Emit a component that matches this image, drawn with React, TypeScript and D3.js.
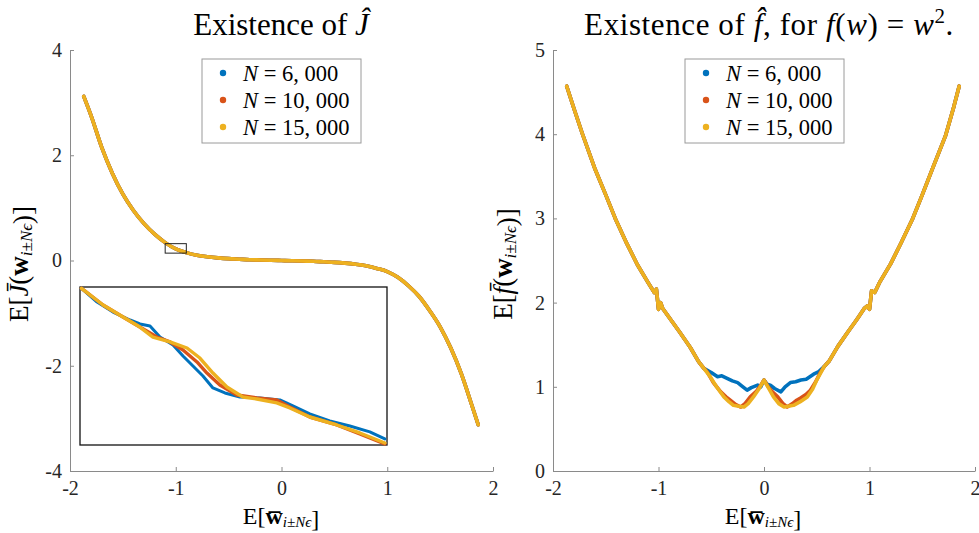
import React, { useEffect, useRef } from 'react';
import * as d3 from 'd3';

// Series colours (MATLAB default order)
const COLORS = ['#0072BD', '#D95319', '#EDB120'];
const legendCounts = ['6, 000', '10, 000', '15, 000'];

const xTicks = [-2, -1, 0, 1, 2];
const yTicksJ = [-4, -2, 0, 2, 4];
const yTicksF = [0, 1, 2, 3, 4, 5];

// E[J(w)] against E[w]; the three sample sizes coincide at this scale
const jMain: [number, number][] = [
  [-1.87, 3.12], [-1.8, 2.75], [-1.7, 2.15], [-1.6, 1.66], [-1.5, 1.26], [-1.4, 0.95],
  [-1.3, 0.7], [-1.2, 0.5], [-1.1, 0.34], [-1.0, 0.22], [-0.9, 0.15], [-0.8, 0.1],
  [-0.7, 0.07], [-0.6, 0.05], [-0.5, 0.035], [-0.4, 0.025], [-0.3, 0.015], [-0.2, 0.01],
  [-0.1, 0.005], [0, 0], [0.1, -0.005], [0.2, -0.01], [0.3, -0.015], [0.4, -0.025],
  [0.5, -0.035], [0.6, -0.05], [0.7, -0.07], [0.8, -0.1], [0.9, -0.15], [1.0, -0.21],
  [1.1, -0.32], [1.2, -0.48], [1.3, -0.68], [1.4, -0.95], [1.5, -1.26], [1.6, -1.66],
  [1.7, -2.15], [1.8, -2.75], [1.86, -3.12],
];

// Zoomed window around w = -1
const insetXDomain = [-1.1, -0.9];
const insetYDomain = [0.14, 0.32];

const jInsetBlue: [number, number][] = [
  [-1.099, 0.3185], [-1.0889, 0.3029], [-1.0785, 0.2915], [-1.0674, 0.2824],
  [-1.0609, 0.2779], [-1.0544, 0.2756], [-1.0479, 0.263], [-1.0394, 0.2539],
  [-1.0329, 0.2414], [-1.0264, 0.23], [-1.0199, 0.2186], [-1.0134, 0.205],
  [-1.0056, 0.1993], [-0.9958, 0.1947], [-0.9828, 0.1936], [-0.9698, 0.1913],
  [-0.9613, 0.1845], [-0.9503, 0.1754], [-0.9373, 0.1674], [-0.9242, 0.1617],
  [-0.9112, 0.1549], [-0.9014, 0.1469],
];
const jInsetRed: [number, number][] = [
  [-1.099, 0.3185], [-1.085, 0.2995], [-1.072, 0.2858], [-1.061, 0.2744],
  [-1.0499, 0.263], [-1.0414, 0.2574], [-1.0329, 0.2482], [-1.0238, 0.2346],
  [-1.0173, 0.222], [-1.0089, 0.2084], [-0.9978, 0.197], [-0.9848, 0.1936],
  [-0.9718, 0.1913], [-0.9633, 0.1833], [-0.9503, 0.1719], [-0.9327, 0.1628],
  [-0.9177, 0.1526], [-0.9014, 0.1412],
];
const jInsetYellow: [number, number][] = [
  [-1.099, 0.3185], [-1.085, 0.2995], [-1.072, 0.2858], [-1.061, 0.2744],
  [-1.0525, 0.263], [-1.0414, 0.2574], [-1.0303, 0.2505], [-1.0219, 0.2391],
  [-1.0134, 0.222], [-1.0043, 0.2061], [-0.9939, 0.1947], [-0.9848, 0.1924],
  [-0.9718, 0.1879], [-0.9633, 0.1822], [-0.9503, 0.1719], [-0.9327, 0.1628],
  [-0.9177, 0.1537], [-0.9014, 0.1423],
];

// E[f(w)] for f(w) = w^2: shared outer branches
const fLeftBranch: [number, number][] = [
  [-1.87, 4.57], [-1.8, 4.3], [-1.72, 4.0], [-1.6, 3.58], [-1.5, 3.28], [-1.41, 3.0],
  [-1.3, 2.7], [-1.2, 2.45], [-1.1, 2.24], [-1.04, 2.12], [-1.02, 2.16], [-1.0, 1.92],
  [-0.98, 2.0], [-0.96, 1.93], [-0.88, 1.79], [-0.8, 1.65], [-0.7, 1.47], [-0.62, 1.3],
];
const fRightBranch: [number, number][] = [
  [0.62, 1.31], [0.7, 1.48], [0.8, 1.66], [0.88, 1.8], [0.95, 1.93], [0.98, 1.96],
  [1.0, 1.92], [1.02, 2.14], [1.05, 2.12], [1.1, 2.25], [1.2, 2.46], [1.3, 2.71],
  [1.41, 3.0], [1.5, 3.28], [1.6, 3.6], [1.72, 3.98], [1.8, 4.33], [1.85, 4.57],
];
// Centre region, where the sample sizes differ
const fCentreBlue: [number, number][] = [
  [-0.57, 1.22], [-0.5, 1.17], [-0.44, 1.12], [-0.4, 1.13], [-0.35, 1.1], [-0.3, 1.07],
  [-0.25, 1.05], [-0.2, 1.0], [-0.16, 0.96], [-0.12, 0.99], [-0.06, 1.02], [-0.03, 1.0],
  [0, 1.08], [0.03, 1.03], [0.06, 1.02], [0.1, 0.98], [0.16, 0.94], [0.2, 1.0],
  [0.25, 1.05], [0.3, 1.06], [0.35, 1.08], [0.4, 1.09], [0.47, 1.15], [0.52, 1.18],
  [0.57, 1.24],
];
const fCentreRed: [number, number][] = [
  [-0.57, 1.22], [-0.54, 1.18], [-0.48, 1.05], [-0.41, 0.94], [-0.36, 0.88], [-0.32, 0.84],
  [-0.27, 0.79], [-0.22, 0.76], [-0.18, 0.8], [-0.13, 0.88], [-0.07, 0.95], [-0.03, 1.02],
  [0, 1.08], [0.04, 1.0], [0.08, 0.94], [0.13, 0.88], [0.18, 0.8], [0.22, 0.76],
  [0.27, 0.8], [0.31, 0.84], [0.35, 0.87], [0.4, 0.91], [0.44, 0.96], [0.49, 1.06],
  [0.53, 1.16], [0.57, 1.24],
];
const fCentreYellow: [number, number][] = [
  [-0.57, 1.22], [-0.51, 1.12], [-0.45, 1.0], [-0.38, 0.88], [-0.33, 0.82], [-0.29, 0.78],
  [-0.24, 0.77], [-0.19, 0.76], [-0.15, 0.8], [-0.1, 0.88], [-0.05, 0.97], [0, 1.08],
  [0.05, 0.97], [0.09, 0.88], [0.14, 0.8], [0.19, 0.76], [0.23, 0.77], [0.28, 0.78],
  [0.34, 0.82], [0.41, 0.88], [0.46, 0.97], [0.5, 1.08], [0.54, 1.17], [0.57, 1.24],
];

const FONT = "'Liberation Serif', 'DejaVu Serif', serif";
const AXIS_GREY = '#8a8a8a';

const xJ = d3.scaleLinear().domain([-2, 2]).range([70, 493]);
const yJ = d3.scaleLinear().domain([-4, 4]).range([471, 50]);
const xF = d3.scaleLinear().domain([-2, 2]).range([553, 975]);
const yF = d3.scaleLinear().domain([0, 5]).range([471, 50]);
const xI = d3.scaleLinear().domain(insetXDomain).range([80, 387]);
const yI = d3.scaleLinear().domain(insetYDomain).range([445, 287]);

function pathFor(
  xs: d3.ScaleLinear<number, number>,
  ys: d3.ScaleLinear<number, number>,
  pts: [number, number][],
  curve: d3.CurveFactory = d3.curveMonotoneX
) {
  return (
    d3
      .line<[number, number]>()
      .x((d) => xs(d[0]))
      .y((d) => ys(d[1]))
      .curve(curve)(pts) || ''
  );
}

function Axes({
  xs,
  ys,
  yTicks,
}: {
  xs: d3.ScaleLinear<number, number>;
  ys: d3.ScaleLinear<number, number>;
  yTicks: number[];
}) {
  const gx = useRef<SVGGElement>(null);
  const gy = useRef<SVGGElement>(null);
  useEffect(() => {
    const style = (g: d3.Selection<SVGGElement, unknown, null, undefined>) => {
      g.select('.domain').attr('stroke', AXIS_GREY).attr('stroke-width', 1);
      g.selectAll('.tick line').attr('stroke', AXIS_GREY);
      g.selectAll('.tick text')
        .attr('fill', '#262626')
        .style('font-family', FONT)
        .style('font-size', '20px');
    };
    const ax = d3
      .axisBottom(xs)
      .tickValues(xTicks)
      .tickSizeInner(-4)
      .tickSizeOuter(0)
      .tickPadding(10)
      .tickFormat((d) => String(d));
    const ay = d3
      .axisLeft(ys)
      .tickValues(yTicks)
      .tickSizeInner(-4)
      .tickSizeOuter(0)
      .tickPadding(8)
      .tickFormat((d) => String(d));
    const sx = d3.select(gx.current!);
    sx.call(ax as any);
    style(sx);
    const sy = d3.select(gy.current!);
    sy.call(ay as any);
    style(sy);
  }, [xs, ys, yTicks]);
  return (
    <g>
      <g ref={gx} transform={`translate(0,${ys.range()[0]})`} />
      <g ref={gy} transform={`translate(${xs.range()[0]},0)`} />
    </g>
  );
}

function Legend({ x, y }: { x: number; y: number }) {
  const w = 159;
  const h = 84;
  return (
    <g transform={`translate(${x},${y})`}>
      <rect x={0} y={0} width={w} height={h} fill="white" stroke="#9a9a9a" strokeWidth={1} />
      {legendCounts.map((c, i) => (
        <g key={c} transform={`translate(0,${14 + i * 27})`}>
          <circle cx={21} cy={0} r={3.2} fill={COLORS[i]} />
          <text x={41} y={7.5} fontFamily={FONT} fontSize={22.5} fill="#000">
            <tspan fontStyle="italic">N</tspan>
            <tspan> = {c}</tspan>
          </text>
        </g>
      ))}
    </g>
  );
}

function Subscript({ size = 17, shift = 4 }: { size?: number; shift?: number }) {
  return (
    <>
      <tspan fontSize={size} fontStyle="italic" dy={shift}>
        i±Nϵ
      </tspan>
      <tspan dy={-shift}>{''}</tspan>
    </>
  );
}

export default function App() {
  const fSeries = [fCentreBlue, fCentreRed, fCentreYellow].map((c) => [
    ...fLeftBranch,
    ...c,
    ...fRightBranch,
  ]) as [number, number][][];
  const insetSeries = [jInsetBlue, jInsetRed, jInsetYellow];

  return (
    <svg
      width={979}
      height={533}
      style={{ position: 'absolute', left: 0, top: 0, background: 'white' }}
      fontFamily={FONT}
    >
      <rect width={979} height={533} fill="white" />

      {/* Left panel: E[J] */}
      <text x={281} y={35} textAnchor="middle" fontSize={31} fill="#000">
        Existence of <tspan fontStyle="italic">Ĵ</tspan>
      </text>
      <Axes xs={xJ} ys={yJ} yTicks={yTicksJ} />
      {COLORS.map((c) => (
        <path
          key={'j' + c}
          d={pathFor(xJ, yJ, jMain)}
          fill="none"
          stroke={c}
          strokeWidth={3.6}
          strokeLinejoin="round"
          strokeLinecap="round"
        />
      ))}
      <rect
        x={xJ(insetXDomain[0])}
        y={yJ(insetYDomain[1])}
        width={xJ(insetXDomain[1]) - xJ(insetXDomain[0])}
        height={yJ(insetYDomain[0]) - yJ(insetYDomain[1])}
        fill="none"
        stroke="#222"
        strokeWidth={1}
      />
      {/* Inset */}
      <rect
        x={xI.range()[0]}
        y={yI.range()[1]}
        width={xI.range()[1] - xI.range()[0]}
        height={yI.range()[0] - yI.range()[1]}
        fill="white"
        stroke="#111"
        strokeWidth={1.3}
      />
      <g>
        {insetSeries.map((s, i) => (
          <path
            key={'i' + i}
            d={pathFor(xI, yI, s, d3.curveLinear)}
            fill="none"
            stroke={COLORS[i]}
            strokeWidth={i === 0 ? 3 : 3.4}
            strokeLinejoin="round"
            strokeLinecap="round"
          />
        ))}
      </g>
      <Legend x={202} y={59} />
      <text
        transform={`translate(28,264) rotate(-90)`}
        textAnchor="middle"
        fontSize={27}
        fill="#000"
      >
        <tspan>E[</tspan>
        <tspan fontStyle="italic">J̄</tspan>
        <tspan>(</tspan>
        <tspan fontWeight="bold">w</tspan>
        <Subscript />
        <tspan>)]</tspan>
      </text>
      <text x={281} y={524} textAnchor="middle" fontSize={24} fill="#000">
        <tspan>E[</tspan>
        <tspan fontWeight="bold">w̅</tspan>
        <Subscript size={15} shift={3} />
        <tspan>]</tspan>
      </text>

      {/* Right panel: E[f] */}
      <text x={769} y={35} textAnchor="middle" fontSize={31} fill="#000" letterSpacing={0.6}>
        Existence of <tspan fontStyle="italic">f̂</tspan>, for{' '}
        <tspan fontStyle="italic">f</tspan>(<tspan fontStyle="italic">w</tspan>) ={' '}
        <tspan fontStyle="italic">w</tspan>
        <tspan fontSize={21} dy={-12}>
          2
        </tspan>
        <tspan dy={12}>.</tspan>
      </text>
      <Axes xs={xF} ys={yF} yTicks={yTicksF} />
      {fSeries.map((s, i) => (
        <path
          key={'f' + i}
          d={pathFor(xF, yF, s, d3.curveLinear)}
          fill="none"
          stroke={COLORS[i]}
          strokeWidth={3.6}
          strokeLinejoin="round"
          strokeLinecap="round"
        />
      ))}
      <Legend x={685} y={59} />
      <text
        transform={`translate(512,264) rotate(-90)`}
        textAnchor="middle"
        fontSize={27}
        fill="#000"
      >
        <tspan>E[</tspan>
        <tspan fontStyle="italic">f̄</tspan>
        <tspan>(</tspan>
        <tspan fontWeight="bold">w</tspan>
        <Subscript />
        <tspan>)]</tspan>
      </text>
      <text x={763} y={524} textAnchor="middle" fontSize={24} fill="#000">
        <tspan>E[</tspan>
        <tspan fontWeight="bold">w̅</tspan>
        <Subscript size={15} shift={3} />
        <tspan>]</tspan>
      </text>
    </svg>
  );
}
